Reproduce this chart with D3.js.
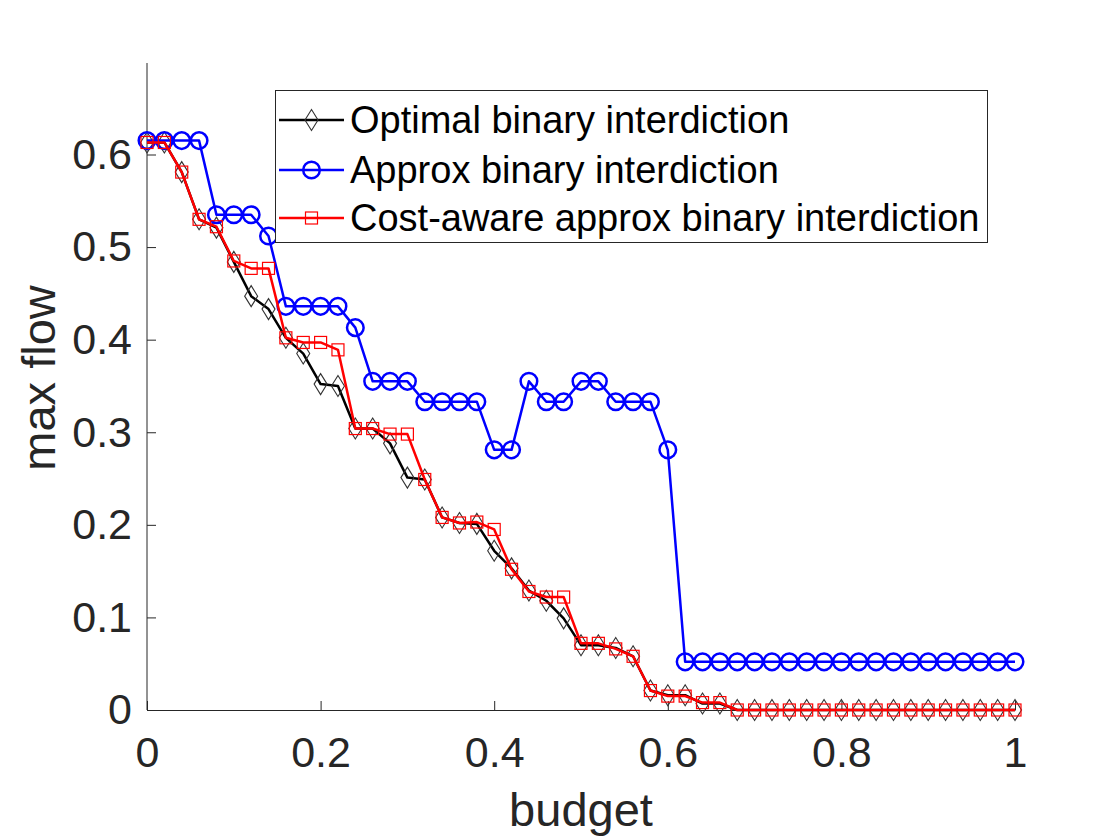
<!DOCTYPE html>
<html><head><meta charset="utf-8">
<script src="https://cdn.jsdelivr.net/npm/d3@7"></script>
<style>body{margin:0;background:#fff;}svg{display:block;}</style>
</head><body>
<svg id="chart" width="1120" height="840"></svg>
<script>
const budget = d3.range(0, 51).map(i => +(i * 0.02).toFixed(2));
const optimal = [0.613,0.613,0.581,0.530,0.521,0.484,0.447,0.433,0.402,0.385,0.352,0.350,0.304,0.304,0.288,0.251,0.249,0.208,0.202,0.201,0.172,0.153,0.129,0.118,0.099,0.070,0.070,0.067,0.058,0.021,0.016,0.016,0.007,0.007,0,0,0,0,0,0,0,0,0,0,0,0,0,0,0,0,0];
const approx = [0.615,0.615,0.615,0.615,0.535,0.535,0.535,0.512,0.436,0.436,0.436,0.436,0.413,0.355,0.355,0.355,0.333,0.333,0.333,0.333,0.281,0.281,0.355,0.333,0.333,0.355,0.355,0.333,0.333,0.333,0.281,0.052,0.052,0.052,0.052,0.052,0.052,0.052,0.052,0.052,0.052,0.052,0.052,0.052,0.052,0.052,0.052,0.052,0.052,0.052,0.052];
const costAware = [0.613,0.613,0.581,0.530,0.522,0.485,0.477,0.477,0.402,0.397,0.397,0.389,0.304,0.304,0.298,0.298,0.249,0.208,0.202,0.203,0.195,0.152,0.128,0.122,0.122,0.072,0.072,0.066,0.058,0.021,0.015,0.015,0.008,0.008,0,0,0,0,0,0,0,0,0,0,0,0,0,0,0,0,0];
const xTicks = [0,0.2,0.4,0.6,0.8,1];
const yTicks = [0,0.1,0.2,0.3,0.4,0.5,0.6];
const seriesNames = ["Optimal binary interdiction","Approx binary interdiction","Cost-aware approx binary interdiction"];

const svg = d3.select("#chart");
const m = {left:147, right:1015, top:63, bottom:710};
const x = d3.scaleLinear().domain([0,1]).range([m.left, m.right]);
const y = d3.scaleLinear().domain([0,0.6]).range([m.bottom, 154.5]);
const axisColor = "#262626";
const font = "'Liberation Sans', Arial, Helvetica, sans-serif";

// axes
const gx = svg.append("g").attr("transform",`translate(0,${m.bottom})`)
  .call(d3.axisBottom(x).tickValues(xTicks).tickSizeInner(-9).tickSizeOuter(0).tickPadding(22).tickFormat(d=>d3.format("")(d)));
const gy = svg.append("g").attr("transform",`translate(${m.left},0)`)
  .call(d3.axisLeft(y).tickValues(yTicks).tickSizeInner(-9).tickSizeOuter(0).tickPadding(15).tickFormat(d=>d3.format("")(d)));
gy.select(".domain").attr("d", `M0,${m.bottom}V${m.top}`);
[gx, gy].forEach(g => {
  g.selectAll(".domain").attr("stroke", axisColor).attr("stroke-width",1);
  g.selectAll(".tick line").attr("stroke", axisColor).attr("stroke-width",1);
  g.selectAll(".tick text").attr("fill", axisColor).style("font-family", font).style("font-size","43px");
});
gx.selectAll(".tick text").attr("y", 57).attr("dy", "0");

svg.append("text").attr("x", (m.left+m.right)/2).attr("y", 826).attr("text-anchor","middle")
  .attr("fill", axisColor).style("font-family", font).style("font-size","47px").text("budget");
svg.append("text").attr("transform", `translate(55,378) rotate(-90)`).attr("text-anchor","middle")
  .attr("fill", axisColor).style("font-family", font).style("font-size","47px").text("max flow");

const line = d3.line().x(d=>x(d[0])).y(d=>y(d[1]));
function diamond(g, cx, cy){ g.append("path").attr("d", `M${cx},${cy-10.5}L${cx+6.5},${cy}L${cx},${cy+10.5}L${cx-6.5},${cy}Z`).attr("fill","none").attr("stroke","#333").attr("stroke-width",1.1); }
function circle(g, cx, cy){ g.append("circle").attr("cx",cx).attr("cy",cy).attr("r",8.3).attr("fill","none").attr("stroke","#0000ff").attr("stroke-width",2.5); }
function square(g, cx, cy){ g.append("rect").attr("x",cx-6).attr("y",cy-6).attr("width",12).attr("height",12).attr("fill","none").attr("stroke","#ff0000").attr("stroke-width",1.2); }

const series = [
  {vals: optimal, color:"#000000", w:2.5, mk: diamond},
  {vals: approx, color:"#0000ff", w:2.5, mk: circle},
  {vals: costAware, color:"#ff0000", w:2.5, mk: square}
];
series.forEach(s => {
  const data = budget.map((b,i)=>[b, s.vals[i]]);
  const g = svg.append("g");
  g.append("path").datum(data).attr("d", line).attr("fill","none").attr("stroke", s.color).attr("stroke-width", s.w).attr("stroke-linejoin","round");
  data.forEach(d => s.mk(g, x(d[0]), y(d[1])));
});

// legend
const lg = svg.append("g");
lg.append("rect").attr("x",275.5).attr("y",90.5).attr("width",712).attr("height",152).attr("fill","#fff").attr("stroke",axisColor).attr("stroke-width",1);
const rowsY = [120, 170, 218];
series.forEach((s,i) => {
  lg.append("line").attr("x1",279).attr("x2",344).attr("y1",rowsY[i]).attr("y2",rowsY[i]).attr("stroke", s.color).attr("stroke-width", s.w);
  s.mk(lg, 311.5, rowsY[i]);
  lg.append("text").attr("x",350).attr("y",rowsY[i]).attr("dy","0.35em").attr("fill","#000").style("font-family",font).style("font-size","38px").text(seriesNames[i]);
});
</script>
</body></html>
